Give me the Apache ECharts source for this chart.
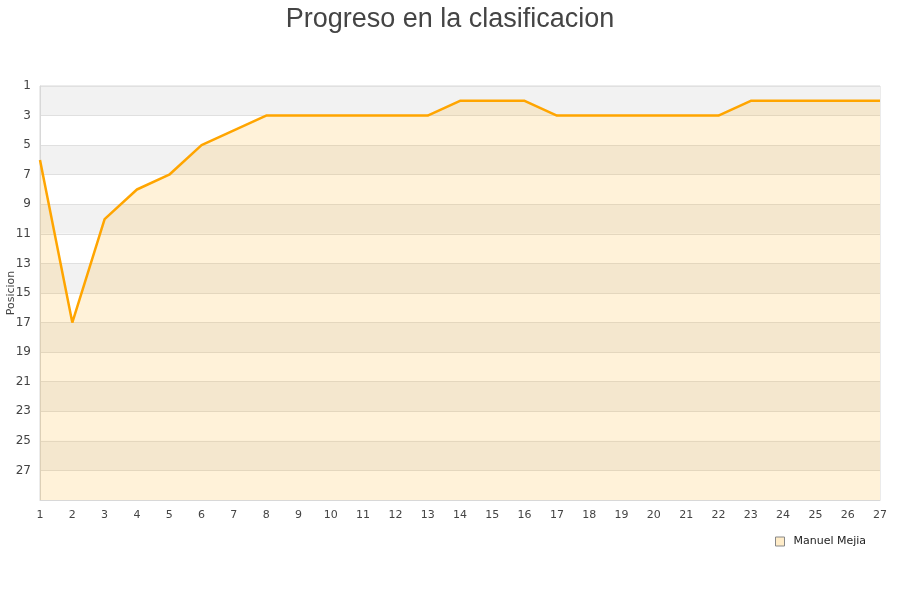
<!DOCTYPE html>
<html><head><meta charset="utf-8">
<script src="https://cdn.jsdelivr.net/npm/echarts@6/dist/echarts.min.js"></script>
<style>html,body{margin:0;padding:0;background:#fff}#c{width:900px;height:600px}</style>
</head><body><div id="c"></div>
<script>
const jornadas = [1,2,3,4,5,6,7,8,9,10,11,12,13,14,15,16,17,18,19,20,21,22,23,24,25,26,27];
const posiciones = [6,17,10,8,7,5,4,3,3,3,3,3,3,2,2,2,3,3,3,3,3,3,2,2,2,2,2];
const seriesName = 'Manuel Mejia';
const chart = echarts.init(document.getElementById('c'));
chart.setOption({
  animation: false,
  title: {text: 'Progreso en la clasificacion', left: 'center', top: 1,
    textStyle: {fontFamily: 'Liberation Sans', fontSize: 27, fontWeight: 'normal', color: '#444'}},
  grid: {left: 40, right: 20, top: 86, bottom: 100, containLabel: false, outerBoundsMode: 'none',
    show: true, borderColor: '#d8d8d8', borderWidth: 1, backgroundColor: 'transparent'},
  legend: {data: [{name: seriesName, icon: 'rect'}], left: 770, top: 531, itemWidth: 9, itemHeight: 9,
    textStyle: {fontFamily: 'DejaVu Sans', fontSize: 11, color: '#222', padding: [0, 0, 0, 4]},
    itemStyle: {color: '#ffecc8', borderColor: '#888', borderWidth: 1}},
  xAxis: {type: 'value', min: 1, max: 27, interval: 1,
    axisLine: {show: true, lineStyle: {color: '#d8d8d8'}}, axisTick: {show: false},
    splitLine: {show: false},
    axisLabel: {fontFamily: 'DejaVu Sans', fontSize: 11, color: '#444', margin: 10}},
  yAxis: {type: 'value', inverse: true, min: 1, max: 29, interval: 2,
    name: 'Posicion', nameLocation: 'middle', nameGap: 23, nameMoveOverlap: false,
    nameTextStyle: {fontFamily: 'DejaVu Sans', fontSize: 11, color: '#444'},
    axisLine: {show: true, lineStyle: {color: '#d8d8d8'}}, axisTick: {show: false},
    axisLabel: {fontFamily: 'DejaVu Sans', fontSize: 12, color: '#444', margin: 9,
      formatter: v => v === 29 ? '' : String(v)},
    splitLine: {show: true, lineStyle: {color: '#e0e0e0'}},
    splitArea: {show: true, areaStyle: {color: ['#f2f2f2', '#ffffff']}}},
  series: [{
    name: seriesName, type: 'line', showSymbol: false, symbol: 'none',
    data: jornadas.map((j, i) => [j, posiciones[i]]),
    lineStyle: {color: '#ffa500', width: 2.5},
    itemStyle: {color: '#ffecc8'},
    areaStyle: {color: 'rgba(255,165,0,0.21)', origin: 'end'}
  }]
});
</script></body></html>
